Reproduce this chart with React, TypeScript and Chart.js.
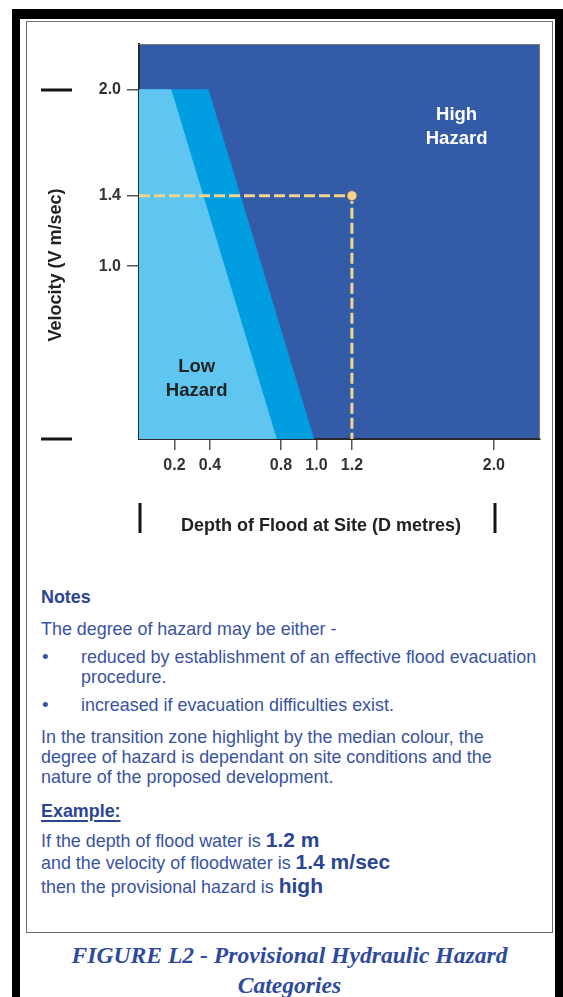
import React, { useEffect, useRef } from 'react';
import { Chart, registerables } from 'chart.js';

Chart.register(...registerables);

// ---- data (Depth D metres, Velocity V m/sec) ----
const xTickValues = [0.2, 0.4, 0.8, 1.0, 1.2, 2.0];
const yTickValues = [1.0, 1.4, 2.0];
const xRange = [0, 2.26];
const yRange = [0.02, 2.26];
// transition (median colour) zone: upper boundary of the zone, filled down to V = 0
const transitionDepth = [0, 0.39, 0.99];
const transitionVelocity = [2.0, 2.0, 0];
// low hazard zone
const lowDepth = [0, 0.18, 0.78];
const lowVelocity = [2.0, 2.0, 0];
// example point
const exampleDepth = 1.2;
const exampleVelocity = 1.4;
// zone label anchors
const highLabel = { x: 1.79, y: 1.79, lines: ['High', 'Hazard'] };
const lowLabel = { x: 0.325, y: 0.36, lines: ['Low', 'Hazard'] };
// crop marks (axis extents)
const cropY = [2.0, yRange[0]];
const cropX = [0, 2.0];

const DARK = '#335BA8';
const MEDIUM = '#009EE0';
const LIGHT = '#5EC6F0';
const DASH = '#F3D48F';
const SANS = '"Liberation Sans", Arial, sans-serif';
const TEXT_BLUE = '#3853A3';
const BOLD_BLUE = '#2B4594';

const pts = (xs: number[], ys: number[]) => xs.map((x, i) => ({ x, y: ys[i] }));

const decorPlugin = {
  id: 'decor',
  beforeDraw(chart: any) {
    const { ctx, chartArea: a } = chart;
    ctx.save();
    ctx.fillStyle = DARK;
    ctx.fillRect(a.left, a.top, a.right - a.left, a.bottom - a.top);
    ctx.restore();
  },
  afterDraw(chart: any) {
    const { ctx, chartArea: a, scales } = chart;
    const xs = scales.x;
    const ys = scales.y;
    ctx.save();
    // thin frame top/right
    ctx.strokeStyle = '#7a7a7a';
    ctx.lineWidth = 1;
    ctx.beginPath();
    ctx.moveTo(a.left, a.top + 0.5);
    ctx.lineTo(a.right - 0.5, a.top + 0.5);
    ctx.lineTo(a.right - 0.5, a.bottom);
    ctx.stroke();

    // crop marks
    ctx.fillStyle = '#151515';
    cropY.forEach((v) => {
      const py = ys.getPixelForValue(v);
      ctx.fillRect(41, Math.round(py) - 1.5, 31, 3);
    });
    cropX.forEach((v) => {
      const px = xs.getPixelForValue(v);
      ctx.fillRect(Math.round(px) - 0.5, 503, 3, 30);
    });

    // axis titles
    ctx.fillStyle = '#222';
    ctx.font = `bold 18px ${SANS}`;
    ctx.textAlign = 'center';
    ctx.textBaseline = 'middle';
    ctx.fillText('Depth of Flood at Site (D metres)', 321, 526);
    ctx.save();
    ctx.translate(56, 265);
    ctx.rotate(-Math.PI / 2);
    ctx.fillText('Velocity (V m/sec)', 0, 0);
    ctx.restore();

    // zone labels
    const drawLabel = (lab: any, color: string) => {
      const px = xs.getPixelForValue(lab.x);
      const py = ys.getPixelForValue(lab.y);
      ctx.fillStyle = color;
      ctx.font = `bold 18.5px ${SANS}`;
      lab.lines.forEach((t: string, i: number) => {
        ctx.fillText(t, px, py + (i - (lab.lines.length - 1) / 2) * 24);
      });
    };
    drawLabel(highLabel, '#ffffff');
    drawLabel(lowLabel, '#222222');
    ctx.restore();
  },
};

function HazardChart() {
  const ref = useRef<HTMLCanvasElement>(null);
  useEffect(() => {
    const chart = new Chart(ref.current as HTMLCanvasElement, {
      type: 'line',
      data: {
        datasets: [
          {
            label: 'Example',
            data: [
              { x: 0, y: exampleVelocity },
              { x: exampleDepth, y: exampleVelocity },
              { x: exampleDepth, y: 0 },
            ],
            borderColor: DASH,
            borderWidth: 3,
            borderDash: [11, 4],
            fill: false,
            pointRadius: [0, 5, 0],
            pointBackgroundColor: '#F5D48C',
            pointBorderColor: '#6a6a6a',
            pointBorderWidth: 1,
            order: 0,
            tension: 0,
          },
          {
            label: 'Low Hazard',
            data: pts(lowDepth, lowVelocity),
            borderColor: LIGHT,
            backgroundColor: LIGHT,
            borderWidth: 1,
            fill: 'origin',
            pointRadius: 0,
            order: 1,
            tension: 0,
          },
          {
            label: 'Transition',
            data: pts(transitionDepth, transitionVelocity),
            borderColor: MEDIUM,
            backgroundColor: MEDIUM,
            borderWidth: 1,
            fill: 'origin',
            pointRadius: 0,
            order: 2,
            tension: 0,
          },
        ],
      },
      options: {
        animation: false,
        responsive: false,
        devicePixelRatio: 1,
        layout: { padding: { left: 0, top: 44, right: 23, bottom: 0 } },
        plugins: { legend: { display: false }, tooltip: { enabled: false } },
        scales: {
          x: {
            type: 'linear',
            min: xRange[0],
            max: xRange[1],
            afterBuildTicks: (s: any) => {
              s.ticks = xTickValues.map((v) => ({ value: v }));
            },
            afterFit: (s: any) => {
              s.height = 121;
            },
            ticks: {
              callback: (v: any) => Number(v).toFixed(1),
              font: { family: SANS, size: 16, weight: 'bold' },
              color: '#333',
              padding: 6,
              maxRotation: 0,
              autoSkip: false,
            },
            grid: { drawOnChartArea: false, drawTicks: true, tickLength: 11, color: '#555', lineWidth: 1.5 },
            border: { display: true, color: '#2a2a2a', width: 2 },
          },
          y: {
            type: 'linear',
            min: yRange[0],
            max: yRange[1],
            afterBuildTicks: (s: any) => {
              s.ticks = yTickValues.map((v) => ({ value: v }));
            },
            afterFit: (s: any) => {
              s.width = 139;
            },
            ticks: {
              callback: (v: any) => Number(v).toFixed(1),
              font: { family: SANS, size: 16, weight: 'bold' },
              color: '#333',
              padding: 6,
              autoSkip: false,
            },
            grid: { drawOnChartArea: false, drawTicks: true, tickLength: 12, color: '#555', lineWidth: 1.5 },
            border: { display: true, color: '#2a2a2a', width: 2 },
          },
        },
      },
      plugins: [decorPlugin],
    } as any);
    return () => chart.destroy();
  }, []);
  return (
    <canvas
      ref={ref}
      width={563}
      height={560}
      style={{ position: 'absolute', left: 0, top: 0, width: 563, height: 560 }}
    />
  );
}

const abs = (top: number, left: number, extra: React.CSSProperties = {}): React.CSSProperties => ({
  position: 'absolute',
  top,
  left,
  whiteSpace: 'nowrap',
  ...extra,
});

export default function App() {
  const body: React.CSSProperties = { fontFamily: SANS, fontSize: 17.9, color: TEXT_BLUE, lineHeight: '20px' };
  const big: React.CSSProperties = { fontWeight: 'bold', fontSize: 21, color: BOLD_BLUE };
  return (
    <div style={{ position: 'absolute', left: 0, top: 0, width: 563, height: 997, background: '#fff', overflow: 'hidden' }}>
      <div style={{ position: 'absolute', left: 12, top: 9, width: 8, height: 988, background: '#000' }} />
      <div style={{ position: 'absolute', left: 12, top: 9, width: 551, height: 10, background: '#000' }} />
      <div style={{ position: 'absolute', left: 555, top: 9, width: 8, height: 988, background: '#000' }} />
      <div
        style={{
          position: 'absolute',
          left: 26,
          top: 21,
          width: 527,
          height: 912,
          border: '1.5px solid #6e6e6e',
          boxSizing: 'border-box',
        }}
      />
      <HazardChart />
      <div style={{ ...body }}>
        <div style={abs(587, 41, { fontWeight: 'bold', color: BOLD_BLUE })}>Notes</div>
        <div style={abs(619, 41)}>The degree of hazard may be either -</div>
        <div style={abs(647, 42, { fontSize: 19 })}>•</div>
        <div style={abs(647, 81)}>
          reduced by establishment of an effective flood evacuation
          <br />
          procedure.
        </div>
        <div style={abs(695, 42, { fontSize: 19 })}>•</div>
        <div style={abs(695, 81)}>increased if evacuation difficulties exist.</div>
        <div style={abs(727, 41)}>
          In the transition zone highlight by the median colour, the
          <br />
          degree of hazard is dependant on site conditions and the
          <br />
          nature of the proposed development.
        </div>
        <div
          style={abs(801, 41, {
            fontWeight: 'bold',
            color: BOLD_BLUE,
            textDecoration: 'underline',
            textDecorationThickness: 2,
            textUnderlineOffset: 3,
          })}
        >
          Example:
        </div>
        <div style={abs(828, 41, { lineHeight: '24px' })}>
          If the depth of flood water is <span style={big}>1.2 m</span>
        </div>
        <div style={abs(850, 41, { lineHeight: '24px' })}>
          and the velocity of floodwater is <span style={big}>1.4 m/sec</span>
        </div>
        <div style={abs(874, 41, { lineHeight: '24px' })}>
          then the provisional hazard is <span style={big}>high</span>
        </div>
      </div>
      <div
        style={{
          position: 'absolute',
          left: 26,
          top: 940,
          width: 527,
          textAlign: 'center',
          fontFamily: '"Liberation Serif", "Times New Roman", serif',
          fontWeight: 'bold',
          fontStyle: 'italic',
          fontSize: 23.6,
          lineHeight: '30px',
          color: '#2E4A9E',
        }}
      >
        FIGURE L2 - Provisional Hydraulic Hazard
        <br />
        Categories
      </div>
    </div>
  );
}
